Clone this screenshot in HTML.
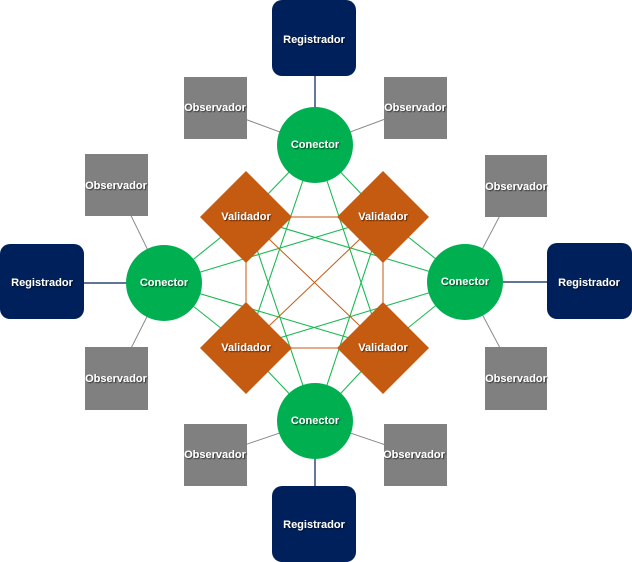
<!DOCTYPE html>
<html><head><meta charset="utf-8"><style>
html,body{margin:0;padding:0;background:#fff;}
svg{display:block;}
text{font-family:"Liberation Sans Narrow","Liberation Sans",sans-serif;font-weight:bold;font-size:11px;fill:#fff;text-anchor:middle;dominant-baseline:central;}
</style></head><body>
<svg width="632" height="562" viewBox="0 0 632 562" xmlns="http://www.w3.org/2000/svg">
<defs><filter id="s"><feDropShadow dx="1" dy="1" stdDeviation="0.5" flood-color="#000" flood-opacity="0.6"/></filter></defs>
<!-- gray observer lines -->
<g stroke="#8a8a8a" stroke-width="1">
<line x1="215" y1="108" x2="315" y2="145"/><line x1="415" y1="108" x2="315" y2="145"/>
<line x1="116" y1="185" x2="164" y2="283"/><line x1="116" y1="378" x2="164" y2="283"/>
<line x1="516" y1="185" x2="465" y2="282"/><line x1="516" y1="378" x2="465" y2="282"/>
<line x1="215" y1="455" x2="315" y2="421"/><line x1="415" y1="455" x2="315" y2="421"/>
</g>
<!-- navy registrar lines -->
<g stroke="#00205b" stroke-width="1.2">
<line x1="315" y1="40" x2="315" y2="145"/><line x1="40" y1="283" x2="164" y2="283"/>
<line x1="590" y1="282" x2="465" y2="282"/><line x1="315" y1="520" x2="315" y2="421"/>
</g>
<!-- green connector-validator lines -->
<g stroke="#1db954" stroke-width="1.1">
<line x1="315" y1="145" x2="246" y2="217"/><line x1="315" y1="145" x2="383" y2="217"/><line x1="315" y1="145" x2="246" y2="348"/><line x1="315" y1="145" x2="383" y2="348"/>
<line x1="164" y1="283" x2="246" y2="217"/><line x1="164" y1="283" x2="383" y2="217"/><line x1="164" y1="283" x2="246" y2="348"/><line x1="164" y1="283" x2="383" y2="348"/>
<line x1="465" y1="282" x2="246" y2="217"/><line x1="465" y1="282" x2="383" y2="217"/><line x1="465" y1="282" x2="246" y2="348"/><line x1="465" y1="282" x2="383" y2="348"/>
<line x1="315" y1="421" x2="246" y2="217"/><line x1="315" y1="421" x2="383" y2="217"/><line x1="315" y1="421" x2="246" y2="348"/><line x1="315" y1="421" x2="383" y2="348"/>
</g>
<!-- orange validator lines -->
<g stroke="#c55a11" stroke-width="1">
<line x1="246" y1="217" x2="383" y2="217"/><line x1="246" y1="348" x2="383" y2="348"/>
<line x1="246" y1="217" x2="246" y2="348"/><line x1="383" y1="217" x2="383" y2="348"/>
<line x1="246" y1="217" x2="383" y2="348"/><line x1="383" y1="217" x2="246" y2="348"/>
</g>
<!-- registrars -->
<g fill="#00205b">
<rect x="272" y="0" width="84" height="76" rx="10"/>
<rect x="0" y="244" width="84" height="75" rx="10"/>
<rect x="547" y="243" width="85" height="76" rx="10"/>
<rect x="272" y="486" width="84" height="76" rx="10"/>
</g>
<!-- observers -->
<g fill="#808080">
<rect x="184" y="77" width="63" height="62"/><rect x="384" y="77" width="63" height="62"/>
<rect x="85" y="154" width="63" height="62"/><rect x="85" y="347" width="63" height="63"/>
<rect x="485" y="155" width="62" height="62"/><rect x="485" y="347" width="62" height="63"/>
<rect x="184" y="424" width="63" height="62"/><rect x="384" y="424" width="63" height="62"/>
</g>
<!-- connectors -->
<g fill="#00b050">
<circle cx="315" cy="145" r="38"/><circle cx="164" cy="283" r="38"/>
<circle cx="465" cy="282" r="38"/><circle cx="315" cy="421" r="38"/>
</g>
<!-- validators -->
<g fill="#c55a11">
<polygon points="246,171 292,217 246,263 200,217"/>
<polygon points="383,171 429,217 383,263 337,217"/>
<polygon points="246,302 292,348 246,394 200,348"/>
<polygon points="383,302 429,348 383,394 337,348"/>
</g>
<g filter="url(#s)">
<text x="314" y="40">Registrador</text><text x="42" y="283">Registrador</text>
<text x="589" y="283">Registrador</text><text x="314" y="525">Registrador</text>
<text x="215" y="108">Observador</text><text x="415" y="108">Observador</text>
<text x="116" y="186">Observador</text><text x="116" y="379">Observador</text>
<text x="516" y="187">Observador</text><text x="516" y="379">Observador</text>
<text x="215" y="455">Observador</text><text x="414" y="455">Observador</text>
<text x="315" y="145">Conector</text><text x="164" y="283">Conector</text>
<text x="465" y="282">Conector</text><text x="315" y="421">Conector</text>
<text x="246" y="217">Validador</text><text x="383" y="217">Validador</text>
<text x="246" y="348">Validador</text><text x="383" y="348">Validador</text>
</g>
</svg>
</body></html>
